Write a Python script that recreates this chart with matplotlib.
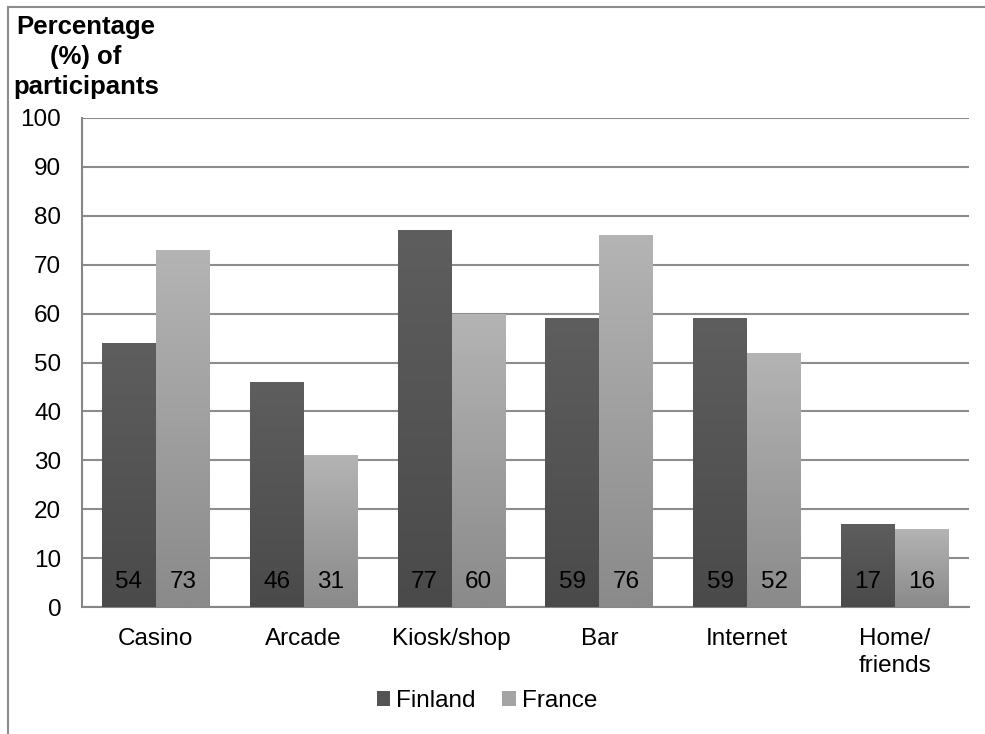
import matplotlib
matplotlib.use("Agg")
import matplotlib.pyplot as plt
import numpy as np
from matplotlib.colors import LinearSegmentedColormap
from matplotlib.patches import Patch
from matplotlib.lines import Line2D

categories = ["Casino", "Arcade", "Kiosk/shop", "Bar", "Internet", "Home/\nfriends"]
finland = [54, 46, 77, 59, 59, 17]
france = [73, 31, 60, 76, 52, 16]
series_names = ["Finland", "France"]
yticks = [0, 10, 20, 30, 40, 50, 60, 70, 80, 90, 100]

plt.rcParams['font.family'] = ['Liberation Sans', 'DejaVu Sans']
FS = 17.5

fig = plt.figure(figsize=(9.85, 7.34), dpi=100)
ax = fig.add_axes([82/985, 1-607/734, (969-82)/985, (607-118)/734])

x = np.arange(len(categories))
w = 0.365
b1 = ax.bar(x - w/2, finland, w, color="#555555", zorder=3)
b2 = ax.bar(x + w/2, france, w, color="#9e9e9e", zorder=3)

cm1 = LinearSegmentedColormap.from_list("fin", ["#4a4a4a", "#5e5e5e"])
cm2 = LinearSegmentedColormap.from_list("fra", ["#8a8a8a", "#b4b4b4"])
grad = np.linspace(0, 1, 256).reshape(-1, 1)
for bars, cm in ((b1, cm1), (b2, cm2)):
    for r in bars:
        x0, y0 = r.get_x(), r.get_y()
        x1, y1 = x0 + r.get_width(), y0 + r.get_height()
        im = ax.imshow(grad, cmap=cm, extent=[x0, x1, y0, y1], origin="lower",
                       aspect="auto", zorder=3.5)
        im.set_clip_path(r)

for bars, vals in ((b1, finland), (b2, france)):
    for r, v in zip(bars, vals):
        ax.annotate(str(v), (r.get_x() + r.get_width()/2, 0), xytext=(0, 18),
                    textcoords="offset points", ha="center", va="center",
                    fontsize=FS, color="black", zorder=5)

ax.set_xlim(-0.5, len(categories) - 0.5)
ax.set_ylim(0, 100)
ax.set_yticks(yticks)
ax.set_yticklabels([str(t) for t in yticks], fontsize=FS)
ax.set_xticks(x)
ax.set_xticklabels(categories, fontsize=FS, linespacing=1.3)
ax.tick_params(axis="both", length=0)
ax.tick_params(axis="y", pad=15)
ax.tick_params(axis="x", pad=15)
ax.yaxis.grid(True, color="#8c8c8c", linewidth=1.5, zorder=0)
ax.set_axisbelow(True)
for s in ["top", "right"]:
    ax.spines[s].set_visible(False)
for s in ["left", "bottom"]:
    ax.spines[s].set_color("#868686")
    ax.spines[s].set_linewidth(1.5)

fig.text(86/985, 1-57/734, "Percentage\n(%) of\nparticipants", ha="center",
         va="center", fontsize=18.5, fontweight="bold", linespacing=1.3)

handles = [Patch(facecolor="#545454", edgecolor="none"),
           Patch(facecolor="#a4a4a4", edgecolor="none")]
fig.legend(handles, series_names, loc="center", bbox_to_anchor=(487/985, 1-701/734),
           ncol=2, frameon=False, fontsize=FS, handlelength=0.55, handleheight=0.55,
           handletextpad=0.25, columnspacing=1.1)

fig.add_artist(Line2D([8/985, 1.0], [1-7/734, 1-7/734], transform=fig.transFigure,
                      color="#8c8c8c", linewidth=1.5))
fig.add_artist(Line2D([8/985, 8/985], [0, 1-7/734], transform=fig.transFigure,
                      color="#8c8c8c", linewidth=1.5))

fig.savefig("out.png", dpi=100)
